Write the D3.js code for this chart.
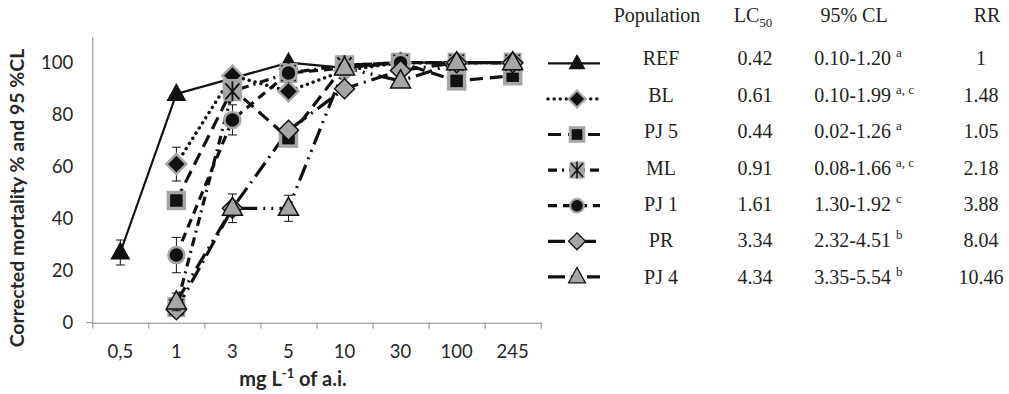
<!DOCTYPE html>
<html>
<head>
<meta charset="utf-8">
<script src="https://cdn.jsdelivr.net/npm/d3@7/dist/d3.min.js"></script>
<style>
  body { margin: 0; background: #fff; }
</style>
</head>
<body>
<script>
var w = 1009;
var h = 394;

// data
var doses = ["0,5", "1", "3", "5", "10", "30", "100", "245"];
var yTicks = [0, 20, 40, 60, 80, 100];
var populations = ["REF", "BL", "PJ 5", "ML", "PJ 1", "PR", "PJ 4"];

var refVals = [27, 88, null, 100, 98, 100, 100, 100];
var blVals  = [null, 61, 95, 89, 97, 100, 100, 100];
var pj5Vals = [null, 47, 90, 71, 99, 100, 93, 95];
var mlVals  = [null, 6, 89, 96, 99, 100, 100, 100];
var pj1Vals = [null, 26, 78, 96, 98, 100, 100, 100];
var prVals  = [null, 5, 44, 74, 90, 97, 100, 100];
var pj4Vals = [null, 8, 44, 44, 98, 93, 100, 100];

var refErr = [4.8, 0, 0, 0, 0, 0, 0, 0];
var blErr  = [0, 6.5, 0, 0, 0, 0, 0, 0];
var pj5Err = [0, 0, 0, 0, 0, 0, 0, 0];
var mlErr  = [0, 0, 0, 0, 0, 0, 0, 0];
var pj1Err = [0, 6.8, 5.8, 0, 0, 0, 0, 0];
var prErr  = [0, 0, 0, 0, 0, 0, 0, 0];
var pj4Err = [0, 3.4, 5.5, 5, 0, 0, 0, 0];

var lc50 = ["0.42", "0.61", "0.44", "0.91", "1.61", "3.34", "4.34"];
var cl95 = ["0.10-1.20", "0.10-1.99", "0.02-1.26", "0.08-1.66", "1.30-1.92", "2.32-4.51", "3.35-5.54"];
var clLetters = ["a", "a, c", "a", "a, c", "c", "b", "b"];
var rr = ["1", "1.48", "1.05", "2.18", "3.88", "8.04", "10.46"];

var gray = '#a6a6a6';
var ink = '#111';

// styles per series, same order as populations
var series = [
  { vals: refVals, err: refErr, marker: 'triUp',   dash: null,               width: 2.2 },
  { vals: blVals,  err: blErr,  marker: 'diamondB', dash: '0.1 6',           width: 3.4, cap: 'round' },
  { vals: pj5Vals, err: pj5Err, marker: 'square',  dash: '13 7',             width: 3.2 },
  { vals: mlVals,  err: mlErr,  marker: 'star',    dash: '9 5 2 5',          width: 3.2 },
  { vals: pj1Vals, err: pj1Err, marker: 'circle',  dash: '9 6',              width: 3.2 },
  { vals: prVals,  err: prErr,  marker: 'diamondG', dash: '17 6 2 6',        width: 3.2 },
  { vals: pj4Vals, err: pj4Err, marker: 'triG',    dash: '17 6 2 6 2 6',     width: 3.2 }
];

var svg = d3.select('body')
  .append('svg')
  .attr('width', w)
  .attr('height', h)
  .style('font-family', 'Lato, "Open Sans", sans-serif');

var x = d3.scaleBand()
  .domain(doses)
  .range([92.3, 540.7]);

var y = d3.scaleLinear()
  .domain([0, 110])
  .range([322.7, 36.7]);

function cx(d) { return x(d) + x.bandwidth() / 2; }

// y axis
var yAxis = svg.append('g')
  .attr('transform', 'translate(92.3,0)')
  .call(d3.axisLeft(y).tickValues(yTicks).tickSize(0).tickSizeOuter(0).tickPadding(19));
yAxis.select('.domain').attr('stroke', '#868686');
yAxis.selectAll('text').attr('font-size', 18.5).attr('fill', '#262626').attr('font-family', 'Lato, sans-serif');

// x axis labels
var xAxis = svg.append('g')
  .attr('transform', 'translate(0,322.7)')
  .call(d3.axisBottom(x).tickSize(0).tickSizeOuter(0).tickPadding(22.5));
xAxis.select('.domain').remove();
xAxis.selectAll('text').attr('font-size', 18.5).attr('fill', '#262626').attr('font-family', 'Lato, sans-serif');

// x axis line and boundary ticks
var xb = d3.scaleLinear().domain([0, doses.length]).range(x.range());
var xTickAxis = svg.append('g')
  .attr('transform', 'translate(0,322.7)')
  .call(d3.axisBottom(xb).ticks(doses.length).tickSize(6).tickSizeOuter(0).tickFormat(''));
xTickAxis.selectAll('line, path').attr('stroke', '#868686');
svg.append('line')
  .attr('x1', 86).attr('x2', 92.3)
  .attr('y1', 322.7).attr('y2', 322.7)
  .attr('stroke', '#868686');

// axis titles
svg.append('text')
  .attr('transform', 'translate(19,198) rotate(-90)')
  .attr('text-anchor', 'middle')
  .attr('dominant-baseline', 'middle')
  .attr('font-weight', 'bold')
  .attr('font-size', 19.5)
  .attr('fill', '#262626')
  .text('Corrected mortality % and 95 %CL');

var xt = svg.append('text')
  .attr('x', 293)
  .attr('y', 386)
  .attr('text-anchor', 'middle')
  .attr('font-weight', 'bold')
  .attr('font-size', 20)
  .attr('fill', '#262626');
xt.append('tspan').text('mg L');
xt.append('tspan').attr('font-size', 13).attr('dy', -8).text('-1');
xt.append('tspan').attr('dy', 8).text(' of a.i.');

// markers
function drawMarker(g, type, px, py, s) {
  s = s || 1;
  var m = g.append('g').attr('transform', 'translate(' + px + ',' + py + ') scale(' + s + ')');
  if (type === 'triUp') {
    m.append('path').attr('d', 'M0,-11L10,7L-10,7Z').attr('fill', ink);
  } else if (type === 'diamondB') {
    m.append('path').attr('d', 'M0,-10L10,0L0,10L-10,0Z')
      .attr('fill', ink).attr('stroke', gray).attr('stroke-width', 2.5);
  } else if (type === 'square') {
    m.append('rect').attr('x', -8).attr('y', -8).attr('width', 16).attr('height', 16)
      .attr('fill', ink).attr('stroke', gray).attr('stroke-width', 3.5);
  } else if (type === 'star') {
    m.append('rect').attr('x', -9).attr('y', -10).attr('width', 18).attr('height', 20)
      .attr('fill', gray);
    m.append('path').attr('d', 'M-7,-8L7,8M7,-8L-7,8M0,-10L0,10')
      .attr('stroke', ink).attr('stroke-width', 1.8).attr('fill', 'none');
  } else if (type === 'circle') {
    m.append('circle').attr('r', 8).attr('fill', ink)
      .attr('stroke', gray).attr('stroke-width', 2.5);
  } else if (type === 'diamondG') {
    m.append('path').attr('d', 'M0,-10L10,0L0,10L-10,0Z')
      .attr('fill', gray).attr('stroke', ink).attr('stroke-width', 1.5);
  } else if (type === 'triG') {
    m.append('path').attr('d', 'M0,-11L10,7L-10,7Z')
      .attr('fill', gray).attr('stroke', ink).attr('stroke-width', 1.5);
  }
}

var plot = svg.append('g');

var line = d3.line()
  .x(function (d) { return cx(d.dose); })
  .y(function (d) { return y(d.v); });

function points(s) {
  return s.vals.map(function (v, i) { return { dose: doses[i], v: v, e: s.err[i] }; })
    .filter(function (d) { return d.v != null; });
}

// lines first
series.forEach(function (s) {
  plot.append('path')
    .datum(points(s))
    .attr('d', line)
    .attr('fill', 'none')
    .attr('stroke', ink)
    .attr('stroke-width', s.width)
    .attr('stroke-linecap', s.cap || 'butt')
    .attr('stroke-dasharray', s.dash);
});

// error bars and markers
series.forEach(function (s) {
  var pts = points(s);
  pts.forEach(function (d) {
    if (d.e > 0) {
      var px = cx(d.dose);
      plot.append('path')
        .attr('d', 'M' + px + ',' + y(d.v - d.e) + 'V' + y(d.v + d.e) +
          'M' + (px - 4.5) + ',' + y(d.v - d.e) + 'H' + (px + 4.5) +
          'M' + (px - 4.5) + ',' + y(d.v + d.e) + 'H' + (px + 4.5))
        .attr('stroke', ink)
        .attr('stroke-width', 1)
        .attr('fill', 'none');
    }
  });
  pts.forEach(function (d) {
    drawMarker(plot, s.marker, cx(d.dose), y(d.v));
  });
});

// legend + table
var rowY = function (i) { return 58.3 + i * 36.4; };
var legY = function (i) { return 63.3 + i * 35.6; };

var legend = svg.append('g');
series.forEach(function (s, i) {
  legend.append('line')
    .attr('x1', 548).attr('x2', 600)
    .attr('y1', legY(i)).attr('y2', legY(i))
    .attr('stroke', ink)
    .attr('stroke-width', s.width)
    .attr('stroke-linecap', s.cap || 'butt')
    .attr('stroke-dasharray', s.dash);
  drawMarker(legend, s.marker, 577, legY(i), 0.85);
});

var table = svg.append('g')
  .attr('font-family', '"Liberation Serif", "Times New Roman", serif')
  .attr('font-size', 20)
  .attr('fill', '#231f20');

table.append('text').attr('x', 657).attr('y', 22).attr('text-anchor', 'middle').text('Population');
var lcHead = table.append('text').attr('x', 753).attr('y', 22).attr('text-anchor', 'middle');
lcHead.append('tspan').text('LC');
lcHead.append('tspan').attr('font-size', 13).attr('dy', 5).text('50');
table.append('text').attr('x', 854).attr('y', 22).attr('text-anchor', 'middle').text('95% CL');
table.append('text').attr('x', 987).attr('y', 22).attr('text-anchor', 'middle').text('RR');

populations.forEach(function (p, i) {
  var by = rowY(i) + 7;
  table.append('text').attr('x', 661).attr('y', by).attr('text-anchor', 'middle').text(p);
  table.append('text').attr('x', 755).attr('y', by).attr('text-anchor', 'middle').text(lc50[i]);
  table.append('text').attr('x', 891).attr('y', by).attr('text-anchor', 'end').text(cl95[i]);
  table.append('text').attr('x', 896).attr('y', by - 8).attr('font-size', 13).text(clLetters[i]);
  table.append('text').attr('x', 981).attr('y', by).attr('text-anchor', 'middle').text(rr[i]);
});
</script>
</body>
</html>
